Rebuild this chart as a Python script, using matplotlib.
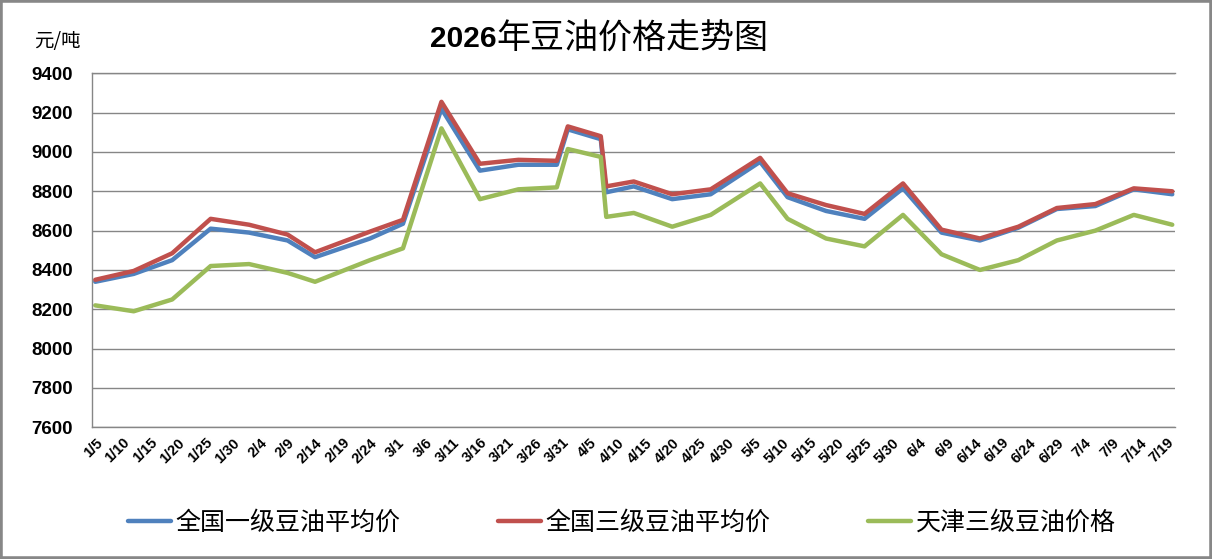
import matplotlib
matplotlib.use('Agg')
import matplotlib.pyplot as plt
from matplotlib.patches import Rectangle
import pandas as pd

# 数据 (元/吨)
dates = ['1/5', '1/12', '1/19', '1/26', '2/2', '2/9', '2/14', '2/24', '3/2', '3/9',
         '3/16', '3/23', '3/30', '4/1', '4/7', '4/8', '4/13', '4/20', '4/27', '5/6',
         '5/11', '5/18', '5/25', '6/1', '6/8', '6/15', '6/22', '6/29', '7/6', '7/13', '7/20']
grade1_avg = [8340, 8380, 8450, 8610, 8590, 8550, 8465, 8560, 8635, 9220,
              8905, 8935, 8935, 9115, 9065, 8795, 8825, 8760, 8785, 8950,
              8770, 8700, 8660, 8815, 8590, 8550, 8615, 8710, 8725, 8810, 8785]
grade3_avg = [8350, 8395, 8485, 8660, 8630, 8580, 8490, 8595, 8655, 9255,
              8940, 8960, 8955, 9130, 9080, 8825, 8850, 8785, 8810, 8970,
              8790, 8730, 8685, 8840, 8605, 8560, 8620, 8715, 8735, 8815, 8800]
tianjin_grade3 = [8220, 8190, 8250, 8420, 8430, 8385, 8340, 8450, 8510, 9120,
                  8760, 8810, 8820, 9015, 8975, 8670, 8690, 8620, 8680, 8840,
                  8660, 8560, 8520, 8680, 8480, 8400, 8450, 8550, 8600, 8680, 8630]
series_names = ['全国一级豆油平均价', '全国三级豆油平均价', '天津三级豆油价格']
colors = ['#4F81BD', '#C0504D', '#9BBB59']

start = pd.Timestamp('2026-01-05')
days = [(pd.Timestamp('2026/' + d) - start).days for d in dates]
ticks = pd.date_range('2026-01-05', '2026-07-19', freq='5D')
tick_pos = [(t - start).days for t in ticks]
tick_lbl = [f'{t.month}/{t.day}' for t in ticks]

W, H = 1212, 559
num_font = 'Liberation Sans'
fig = plt.figure(figsize=(W / 100, H / 100), dpi=100)
ax = fig.add_axes([92.5 / W, 1 - 427.3 / H, (1175 - 92.5) / W, (427.3 - 73.3) / H])

for vals, name, c in zip([grade1_avg, grade3_avg, tianjin_grade3], series_names, colors):
    ax.plot(days, vals, color=c, lw=3.2, label=name, solid_joinstyle='round',
            solid_capstyle='round')

ax.set_ylim(7600, 9400)
ax.set_yticks(range(7600, 9401, 200))
ax.set_xlim(-0.5, 196.5)
ax.set_xticks(tick_pos)
ax.set_xticklabels(tick_lbl, rotation=45, ha='right', rotation_mode='anchor',
                   fontsize=10.5, fontweight='bold', family=num_font)
for lab in ax.get_yticklabels():
    lab.set_family(num_font)
    lab.set_fontweight('bold')
    lab.set_fontsize(13.5)
ax.tick_params(axis='both', length=0)
ax.tick_params(axis='y', pad=14)
ax.tick_params(axis='x', pad=6)
ax.grid(axis='y', color='#868686', lw=1)
ax.set_axisbelow(True)
ax.spines['right'].set_visible(False)
for s in ['left', 'top', 'bottom']:
    ax.spines[s].set_color('#868686')
    ax.spines[s].set_linewidth(1)

# 标题
t1 = fig.text(430 / W, 1 - 39 / H, '2026', fontsize=21.5, fontweight='bold',
              family=num_font, ha='left', va='center')
ax.annotate('年豆油价格走势图', xy=(1, 0.5), xycoords=t1, xytext=(0, 0),
            textcoords='offset points', ha='left', va='center', fontsize=24.5,
            family='Noto Sans CJK SC')

fig.text(57 / W, 1 - 41 / H, '元/吨', fontsize=14,
         family=['Noto Sans CJK SC', 'DejaVu Sans'], ha='center', va='center')

fig.legend(loc='center', bbox_to_anchor=(622 / W, 1 - 523 / H), ncol=3, frameon=False,
           prop={'family': 'Noto Sans CJK SC', 'size': 18}, handlelength=1.7,
           handletextpad=0.2, columnspacing=3.9)

fig.add_artist(Rectangle((0, 0), 1, 1, transform=fig.transFigure, fill=False,
                         edgecolor='#878787', lw=4, clip_on=False))

fig.savefig('out.png', dpi=100)
